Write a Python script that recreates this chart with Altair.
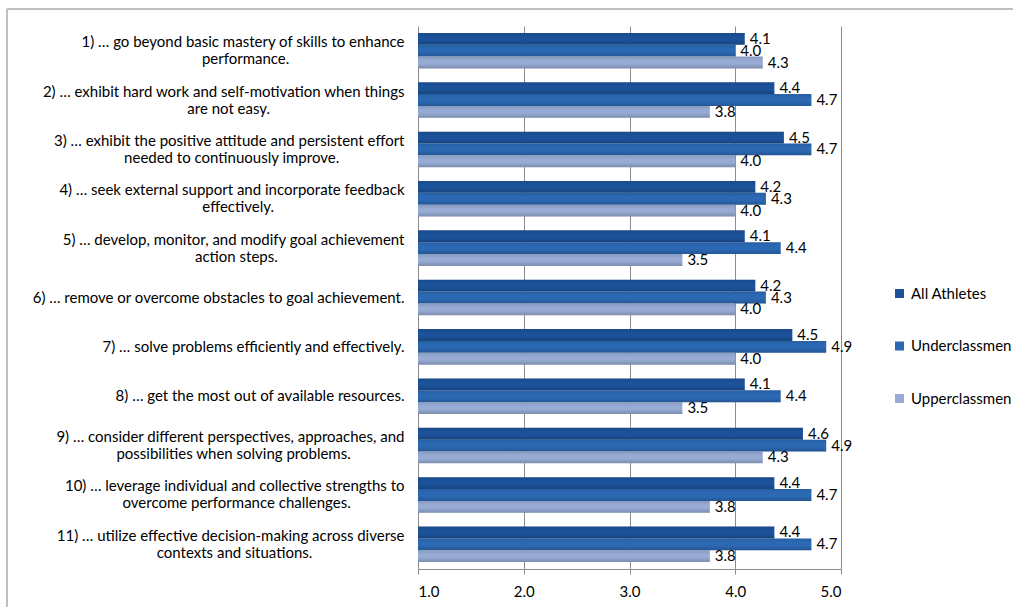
import altair as alt
import pandas as pd

questions = [
    "1) … go beyond basic mastery of skills to enhance\nperformance.",
    "2) … exhibit hard work and self-motivation when things\nare not easy.",
    "3) … exhibit the positive attitude and persistent effort\nneeded to continuously improve.",
    "4) … seek external support and incorporate feedback\neffectively.",
    "5) … develop, monitor, and modify goal achievement\naction steps.",
    "6) … remove or overcome obstacles to goal achievement.",
    "7) … solve problems efficiently and effectively.",
    "8) … get the most out of available resources.",
    "9) … consider different perspectives, approaches, and\npossibilities when solving problems.",
    "10) … leverage individual and collective strengths to\novercome performance challenges.",
    "11) … utilize effective decision-making across diverse\ncontexts and situations.",
]
series = ["All Athletes", "Underclassmen", "Upperclassmen"]
all_athletes = [4.09, 4.37, 4.46, 4.19, 4.09, 4.19, 4.54, 4.09, 4.64, 4.37, 4.37]
underclassmen = [4.00, 4.72, 4.72, 4.29, 4.43, 4.29, 4.86, 4.43, 4.86, 4.72, 4.72]
upperclassmen = [4.26, 3.76, 4.00, 4.00, 3.50, 4.00, 4.00, 3.50, 4.26, 3.76, 3.76]
colors = ["#1C5299", "#2C69B4", "#97ABD4"]

FONT = "Lato"
FS = 15

# approximate Lato advance widths (em) used only to centre the second label line
_W = dict(a=.49, b=.55, c=.45, d=.55, e=.5, f=.32, g=.49, h=.55, i=.23, j=.23, k=.49,
          l=.23, m=.82, n=.55, o=.53, p=.53, q=.54, r=.36, s=.42, t=.34, u=.55, v=.5,
          w=.76, x=.49, y=.5, z=.45)
_W.update({" ": .26, "\u00a0": .26, ".": .2, ",": .2, "-": .33, ")": .3, "(": .3, "…": .7})


def _width(s):
    return sum(_W.get(ch, .58) for ch in s)


def centred(label):
    parts = label.split("\n")
    if len(parts) == 1:
        return label
    w1, w2 = _width(parts[0]), _width(parts[1])
    pad = max(0, int(round((w1 - w2) / 2 / _W["\u00a0"])))
    return parts[0] + "\n" + parts[1] + "\u00a0" * pad + "\u200b"


display = [centred(q) for q in questions]

rows = []
for s, vals in zip(series, [all_athletes, underclassmen, upperclassmen]):
    for q, v in zip(display, vals):
        rows.append({"question": q, "series": s, "value": v})
df = pd.DataFrame(rows)

y_enc = alt.Y(
    "question:N",
    sort=display,
    scale=alt.Scale(paddingInner=0.28, paddingOuter=0.14),
    axis=alt.Axis(
        title=None,
        labelExpr="split(datum.label, '\\n')",
        labelLineHeight=17,
        labelFontSize=FS,
        labelFont=FONT,
        labelColor="#000000",
        labelPadding=14,
        labelLimit=460,
        labelOffset={"condition": {"test": "indexof(datum.label, '\\n') >= 0", "value": -8.5}, "value": 0},
        ticks=False,
        domain=False,
        labelAlign="right",
    ),
)
x_enc = alt.X(
    "value:Q",
    scale=alt.Scale(domain=[1, 5], nice=False, zero=False),
    axis=alt.Axis(
        title=None,
        values=[1, 2, 3, 4, 5],
        format=".1f",
        grid=True,
        gridColor="#8C8C8C",
        domainColor="#8C8C8C",
        tickColor="#8C8C8C",
        tickSize=5,
        labelFontSize=FS,
        labelFont=FONT,
        labelColor="#000000",
        labelPadding=10,
    ),
)
yoff = alt.YOffset("series:N", sort=series)

bars = alt.Chart(df).mark_bar(clip=False).encode(
    y=y_enc,
    x=x_enc,
    x2=alt.datum(1),
    yOffset=yoff,
    color=alt.Color(
        "series:N",
        sort=series,
        scale=alt.Scale(domain=series, range=colors),
        legend=alt.Legend(
            title=None,
            orient="none",
            legendX=474,
            legendY=260,
            symbolType="square",
            symbolSize=81,
            symbolStrokeWidth=0,
            labelFontSize=FS,
            labelFont=FONT,
            labelColor="#000000",
            rowPadding=36.5,
            labelOffset=4,
        ),
    ),
)

shade = alt.Chart(df).mark_bar(
    clip=False,
    color=alt.LinearGradient(
        gradient="linear",
        x1=0, x2=0, y1=0, y2=1,
        stops=[
            alt.GradientStop(color="rgba(0,0,0,0.10)", offset=0),
            alt.GradientStop(color="rgba(0,0,0,0.0)", offset=0.35),
            alt.GradientStop(color="rgba(0,0,0,0.0)", offset=0.6),
            alt.GradientStop(color="rgba(0,0,0,0.18)", offset=1),
        ],
    ),
).encode(
    y=alt.Y("question:N", sort=display),
    x=alt.X("value:Q"),
    x2=alt.datum(1),
    yOffset=yoff,
)

labels = alt.Chart(df).mark_text(
    align="left", baseline="middle", dx=5, fontSize=FS, font=FONT, color="#000000"
).encode(
    y=alt.Y("question:N", sort=display),
    x=alt.X("value:Q"),
    yOffset=yoff,
    text=alt.Text("value:Q", format=".1f"),
)

border_top = alt.Chart(df).mark_rule(color="#BFBFBF", strokeWidth=2).encode(
    x=alt.value(-411), x2=alt.value(600), y=alt.value(-17)
)
border_left = alt.Chart(df).mark_rule(color="#BFBFBF", strokeWidth=2).encode(
    x=alt.value(-411), y=alt.value(-17), y2=alt.value(600)
)

chart = alt.layer(bars, shade, labels, border_top, border_left).properties(
    width=423,
    height=543,
    padding={"left": 418, "top": 26, "right": 172, "bottom": 38},
    autosize=alt.AutoSizeParams(type="none"),
).configure_view(stroke=None)

chart.save("out.html", embed_options={"renderer": "svg", "actions": False})
